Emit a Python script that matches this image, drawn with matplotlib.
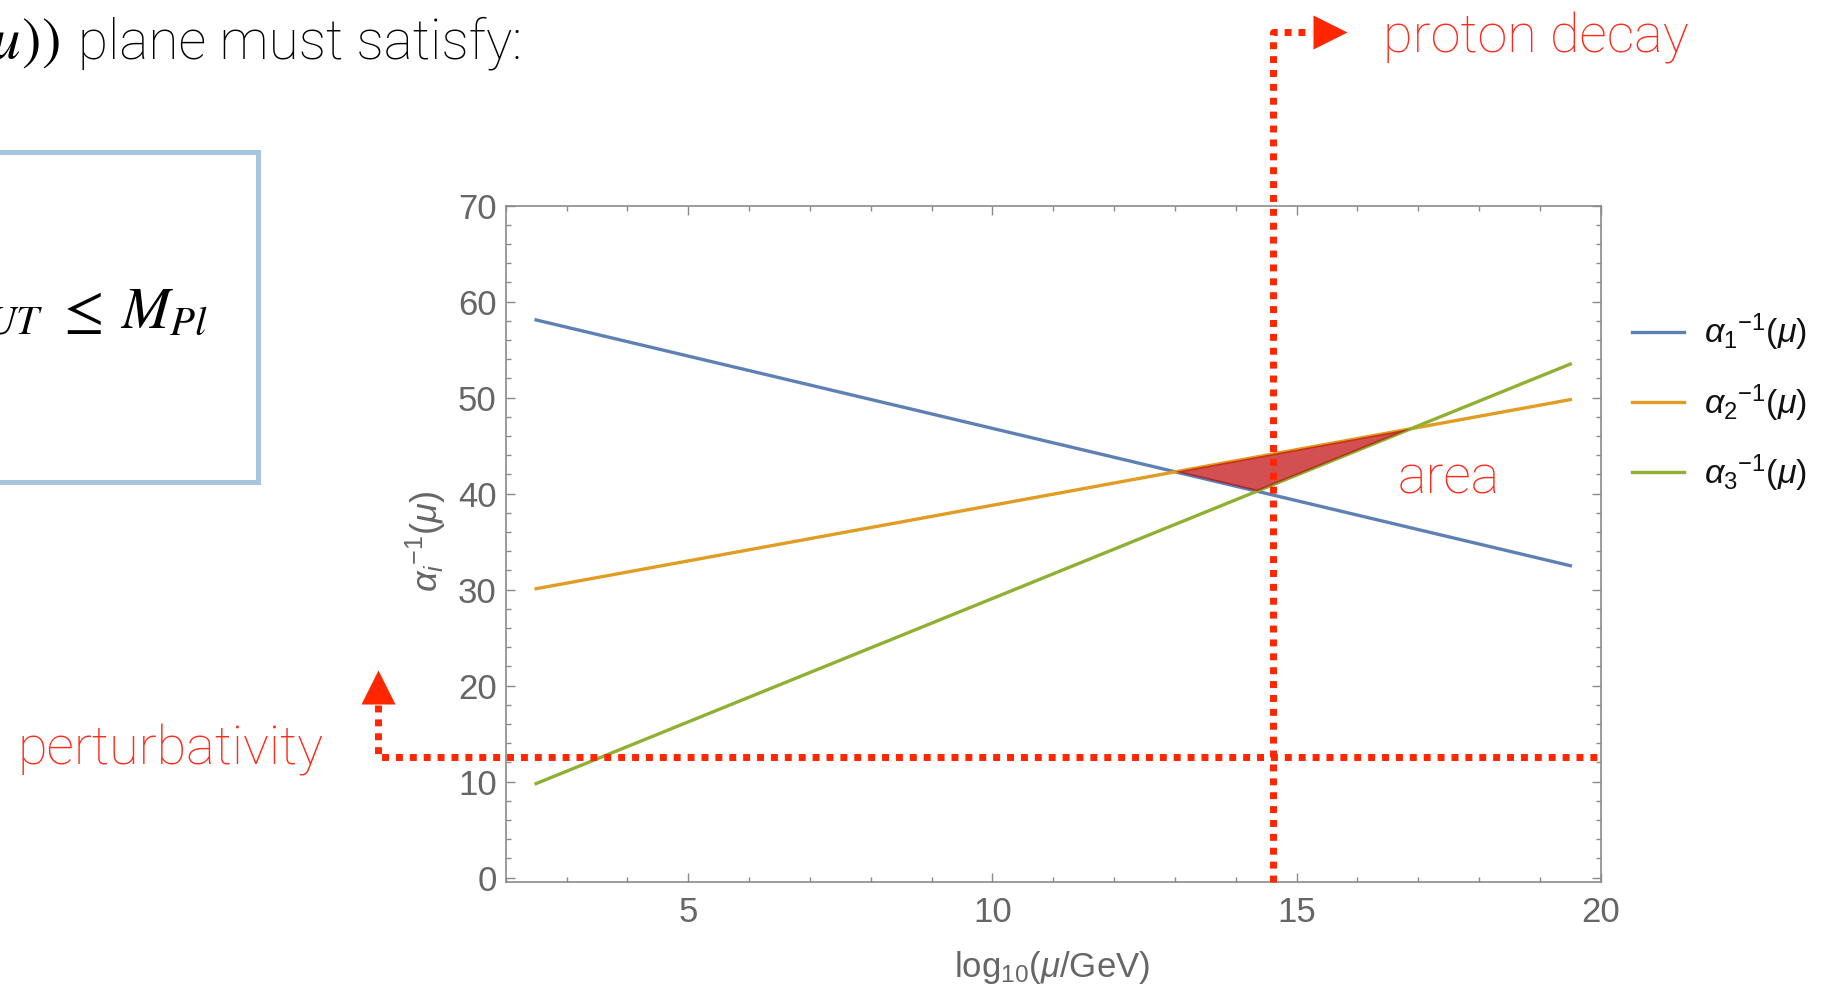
import numpy as np
import matplotlib
matplotlib.use('Agg')
import matplotlib.pyplot as plt
from matplotlib.patches import Rectangle
from matplotlib.ticker import MultipleLocator

# running couplings (one-loop, straight lines in log10 mu)
mu_log = [2.5, 19.5]
alpha1_inv = [58.1, 32.5]
alpha2_inv = [30.1, 49.8]
alpha3_inv = [9.8, 53.5]
labels = [r"$\alpha_1{}^{-1}(\mu)$", r"$\alpha_2{}^{-1}(\mu)$", r"$\alpha_3{}^{-1}(\mu)$"]

# bounds
x_proton = 14.62   # proton decay
y_pert = 12.6      # perturbativity

plt.rcParams['font.family'] = ['Liberation Sans', 'DejaVu Sans']
plt.rcParams['mathtext.fontset'] = 'custom'
plt.rcParams['mathtext.rm'] = 'Liberation Sans'
plt.rcParams['mathtext.it'] = 'Liberation Sans:italic'

W, H = 1843, 986
fig = plt.figure(figsize=(W / 100, H / 100), dpi=100)
ax = fig.add_axes([505.7 / W, 1 - 881.7 / H, 1095 / W, 676 / H])


def fpx(x, y):
    # pixel position -> figure fraction
    return x / W, 1 - y / H


colors = ['#5e81b5', '#e19c24', '#8fb032']
lines = []
for ys, c, lab in zip([alpha1_inv, alpha2_inv, alpha3_inv], colors, labels):
    ln, = ax.plot(mu_log, ys, color=c, lw=2.4, label=lab, zorder=2)
    lines.append(ln)


# triangle where the three lines cross
def coef(ys):
    k = (ys[1] - ys[0]) / (mu_log[1] - mu_log[0])
    return k, ys[0] - k * mu_log[0]


cf = [coef(a) for a in (alpha1_inv, alpha2_inv, alpha3_inv)]
vx, vy = [], []
for i, j in [(0, 1), (0, 2), (1, 2)]:
    (k1, b1), (k2, b2) = cf[i], cf[j]
    xx = (b2 - b1) / (k1 - k2)
    vx.append(xx)
    vy.append(k1 * xx + b1)
ax.fill(vx, vy, color='#c00508', alpha=0.7, lw=0, zorder=3)

# red dotted bounds with arrows
red = '#ff2600'
dot = dict(color=red, lw=5, linestyle=(0, (1, 1)), dash_capstyle='butt',
           clip_on=False, zorder=4)
ax.plot([x_proton, x_proton, 15.26], [-0.42, 88.1, 88.1], **dot)
ax.plot([15.55], [88.1], marker='>', ms=25, color=red, mec='none', clip_on=False)
ax.plot([-0.1, -0.1, 20], [18.0, y_pert, y_pert], **dot)
ax.plot([-0.1], [19.86], marker='^', ms=25, color=red, mec='none', clip_on=False)

ax.set_xlim(2, 20)
ax.set_ylim(-0.42, 70)
ax.xaxis.set_major_locator(MultipleLocator(5))
ax.xaxis.set_minor_locator(MultipleLocator(1))
ax.yaxis.set_major_locator(MultipleLocator(10))
ax.yaxis.set_minor_locator(MultipleLocator(2))
ax.tick_params(which='both', direction='in', top=True, right=True,
               color='#8a8a8a', labelcolor='#666666', labelsize=25, width=1)
ax.tick_params(which='major', length=6.7)
ax.tick_params(which='minor', length=3.8)
ax.tick_params(axis='y', pad=6.5)
ax.tick_params(axis='x', pad=10)
for s in ax.spines.values():
    s.set_color('#8a8a8a')
    s.set_linewidth(1.2)

ax.set_xlabel(r"log$_{10}$($\mu$/GeV)", fontsize=25, color='#666666')
ax.xaxis.label.set_va('baseline')
ax.xaxis.set_label_coords(0.499, -0.141)
ax.set_ylabel(r"$\alpha_i{}^{-1}(\mu)$", fontsize=26, color='#666666')
ax.yaxis.label.set_va('center')
ax.yaxis.set_label_coords(-0.0728, 0.504)

leg = ax.legend(handles=lines, loc='center left', bbox_to_anchor=fpx(1632, 403),
                bbox_transform=fig.transFigure, frameon=False, fontsize=24.5,
                handlelength=1.53, handletextpad=0.6, labelspacing=0.85,
                borderpad=0, borderaxespad=0)
for t in leg.get_texts():
    t.set_color('#111111')

# slide text around the plot
light = dict(family=['Roboto', 'DejaVu Sans'], fontweight='light')
fig.text(*fpx(60, 58), r"$\mu))$", ha='right', va='baseline', fontsize=42,
         math_fontfamily='stix')
fig.text(*fpx(78, 58), "plane must satisfy:", va='baseline', fontsize=39.5, **light)

fig.add_artist(Rectangle(fpx(-10, 481.7), 267.5 / W, 330 / H, fill=False,
                         ec='#a7c5dd', lw=3.6, transform=fig.transFigure))
fig.text(*fpx(44, 328), r"$M_{GUT}$", ha='right', va='baseline', fontsize=42,
         math_fontfamily='stix')
fig.text(*fpx(55, 328), r"$\leq$", va='baseline', fontsize=42,
         math_fontfamily='stix')
fig.text(*fpx(120, 328), r"$M_{Pl}$", va='baseline', fontsize=42,
         math_fontfamily='stix')

rtxt = '#ff2a1a'
fig.text(*fpx(1383, 52), "proton decay", color=rtxt, va='baseline', fontsize=39, **light)
fig.text(*fpx(1398, 493), "area", color=rtxt, va='baseline', fontsize=39, **light)
fig.text(*fpx(18, 765), "perturbativity", color=rtxt, va='baseline', fontsize=39, **light)

fig.savefig('out.png', dpi=100)
